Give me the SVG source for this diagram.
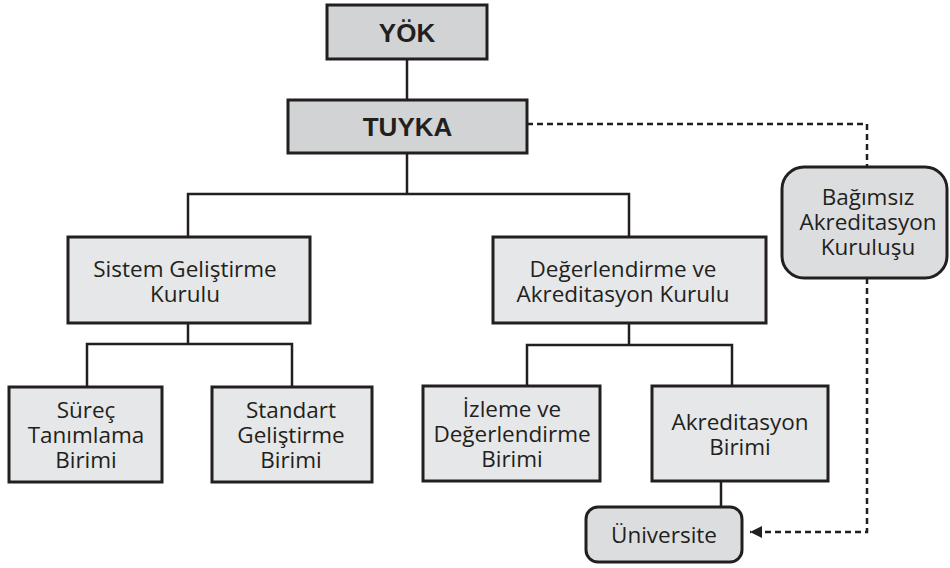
<svg xmlns="http://www.w3.org/2000/svg" width="950" height="568" viewBox="0 0 950 568">
<defs>
<style>
.box{fill:#e6e7e8;stroke:#231f20;stroke-width:3}
.top{fill:#d1d3d4;stroke:#231f20;stroke-width:3}
.rnd{fill:#dcdddf;stroke:#231f20;stroke-width:3}
.t{font-family:"Open Sans","Noto Sans",sans-serif;font-size:22.5px;fill:#231f20;text-anchor:middle}
.b{font-family:"Liberation Sans",Arial,sans-serif;font-size:26px;font-weight:bold;fill:#231f20;text-anchor:middle}
.ln{fill:none;stroke:#231f20;stroke-width:2.5}
.dash{fill:none;stroke:#231f20;stroke-width:2.5;stroke-dasharray:6 4}
</style>
<marker id="ah" viewBox="0 0 10 10" refX="10" refY="5" markerWidth="16" markerHeight="12" markerUnits="userSpaceOnUse" orient="auto">
<path d="M0,0 L10,5 L0,10 z" fill="#231f20"/>
</marker>
</defs>
<g id="connectors">
<path class="ln" d="M407,59 V100"/>
<path class="ln" d="M407,153 V194 M188,237 V194 H629 V237"/>
<path class="ln" d="M188,323 V344 M87,387 V344 H292 V387"/>
<path class="ln" d="M629,323 V345 M527,386 V345 H732 V386"/>
<path class="ln" d="M721,481 V507"/>
<path class="dash" d="M527,124 H867 V167"/>
<path class="dash" d="M867,278 V532 H750" marker-end="url(#ah)"/>
</g>
<g id="yok">
<rect class="top" x="327" y="5" width="160" height="54"/>
<text class="b" x="407" y="42">YÖK</text>
</g>
<g id="tuyka">
<rect class="top" x="288" y="100" width="239" height="53"/>
<text class="b" x="407.5" y="136">TUYKA</text>
</g>
<g id="sistem">
<rect class="box" x="68" y="237" width="242" height="86"/>
<text class="t" x="185" y="277">Sistem Geliştirme</text>
<text class="t" x="185" y="302">Kurulu</text>
</g>
<g id="degerlendirme">
<rect class="box" x="493" y="237" width="273" height="86"/>
<text class="t" x="623" y="277">Değerlendirme ve</text>
<text class="t" x="623" y="302">Akreditasyon Kurulu</text>
</g>
<g id="bagimsiz">
<rect class="rnd" x="782" y="167" width="165" height="111" rx="22" ry="22"/>
<text class="t" x="868" y="205">Bağımsız</text>
<text class="t" x="868" y="230">Akreditasyon</text>
<text class="t" x="868" y="255">Kuruluşu</text>
</g>
<g id="surec">
<rect class="box" x="9" y="387" width="153" height="95"/>
<text class="t" x="86" y="418">Süreç</text>
<text class="t" x="86" y="443">Tanımlama</text>
<text class="t" x="86" y="468">Birimi</text>
</g>
<g id="standart">
<rect class="box" x="212" y="387" width="160" height="95"/>
<text class="t" x="291" y="418">Standart</text>
<text class="t" x="291" y="443">Geliştirme</text>
<text class="t" x="291" y="468">Birimi</text>
</g>
<g id="izleme">
<rect class="box" x="423" y="386" width="177" height="95"/>
<text class="t" x="512" y="417">İzleme ve</text>
<text class="t" x="512" y="442">Değerlendirme</text>
<text class="t" x="512" y="467">Birimi</text>
</g>
<g id="akreditasyon">
<rect class="box" x="652" y="386" width="176" height="95"/>
<text class="t" x="740" y="430">Akreditasyon</text>
<text class="t" x="740" y="455">Birimi</text>
</g>
<g id="universite">
<rect class="rnd" x="586" y="507" width="156" height="55" rx="12" ry="12"/>
<text class="t" x="664" y="543">Üniversite</text>
</g>
</svg>
